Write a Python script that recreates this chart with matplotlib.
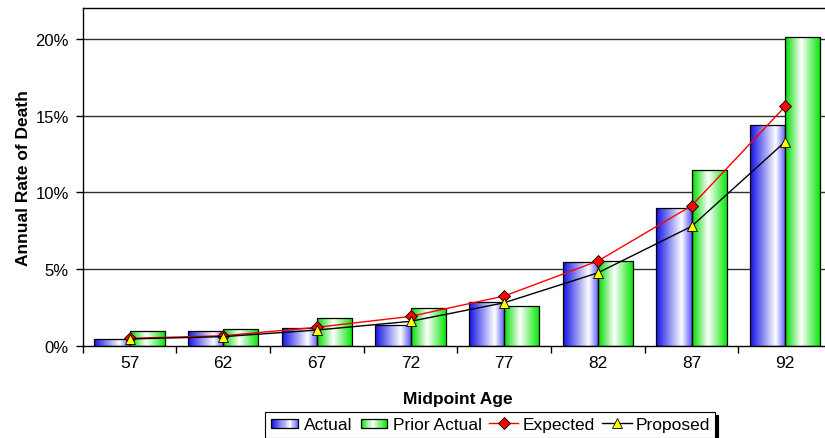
import numpy as np
import matplotlib
matplotlib.use('Agg')
import matplotlib.pyplot as plt
from matplotlib.colors import LinearSegmentedColormap
from matplotlib.patches import Rectangle
from matplotlib.lines import Line2D
from matplotlib.legend_handler import HandlerBase
from matplotlib.ticker import FuncFormatter, FixedLocator

plt.rcParams['font.family'] = ['Liberation Sans', 'DejaVu Sans']

ages = ['57', '62', '67', '72', '77', '82', '87', '92']
actual = [0.44, 0.98, 1.13, 1.35, 2.85, 5.45, 9.00, 14.42]
prior_actual = [0.98, 1.11, 1.79, 2.44, 2.62, 5.50, 11.43, 20.16]
expected = [0.48, 0.65, 1.20, 1.91, 3.24, 5.52, 9.12, 15.60]
proposed = [0.44, 0.59, 1.02, 1.59, 2.80, 4.75, 7.78, 13.30]

# two-tone gradients: saturated edges fading to white
blue_cmap = LinearSegmentedColormap.from_list(
    'blue_grad', [(0.0, '#1414e6'), (0.72, '#ffffff'), (1.0, '#5a5aff')])
green_cmap = LinearSegmentedColormap.from_list(
    'green_grad', [(0.0, '#00dc00'), (0.45, '#ffffff'), (1.0, '#00e600')])


def gradient_bars(ax, xs, heights, width, cmap):
    grad = np.linspace(0, 1, 64).reshape(1, -1)
    for x, h in zip(xs, heights):
        rect = Rectangle((x, 0), width, h, facecolor='none',
                         edgecolor='black', linewidth=0.9, zorder=3)
        ax.add_patch(rect)
        im = ax.imshow(grad, cmap=cmap, aspect='auto',
                       extent=(x, x + width, 0, h), zorder=2,
                       interpolation='bilinear')
        im.set_clip_path(rect)


class GradientHandler(HandlerBase):
    def __init__(self, cmap):
        super().__init__()
        self.cmap = cmap

    def create_artists(self, legend, orig_handle, xdescent, ydescent,
                       width, height, fontsize, trans):
        n = 24
        artists = []
        w = width * 0.9
        h = height * 0.8
        x0 = -xdescent + (width - w) / 2
        y0 = -ydescent + (height - h) / 2
        for i in range(n):
            c = self.cmap((i + 0.5) / n)
            artists.append(Rectangle((x0 + i * w / n, y0), w / n + 0.3, h,
                                     facecolor=c, edgecolor='none',
                                     transform=trans))
        artists.append(Rectangle((x0, y0), w, h, facecolor='none',
                                 edgecolor='black', linewidth=0.9,
                                 transform=trans))
        return artists


fig = plt.figure(figsize=(8.25, 4.39), dpi=100)
ax = fig.add_axes([82.7 / 825, 1 - 346.7 / 439, (832 - 82.7) / 825,
                   (346.7 - 9.3) / 439])

idx = np.arange(len(ages))
bar_w = 0.375
gradient_bars(ax, idx - bar_w, actual, bar_w, blue_cmap)
gradient_bars(ax, idx, prior_actual, bar_w, green_cmap)

ax.plot(idx, expected, color='red', lw=1, marker='D', markersize=6,
        markerfacecolor='red', markeredgecolor='black', markeredgewidth=0.6,
        zorder=5)
ax.plot(idx, proposed, color='black', lw=1, marker='^', markersize=7.5,
        markerfacecolor='yellow', markeredgecolor='black',
        markeredgewidth=0.6, zorder=6)

ax.set_xlim(-0.5, len(ages) - 0.5)
ax.set_ylim(0, 22.0)

ax.set_yticks([0, 5, 10, 15, 20])
ax.yaxis.set_major_formatter(FuncFormatter(lambda v, p: f'{v:.0f}%'))
for v in [5, 10, 15, 20]:
    ax.axhline(v, color='#303030', lw=1, zorder=1)

ax.set_xticks(idx)
ax.set_xticklabels(ages)
ax.xaxis.set_minor_locator(FixedLocator(np.arange(-0.5, len(ages), 1)))
ax.tick_params(axis='x', which='major', length=0, pad=7, labelsize=12.5)
ax.tick_params(axis='x', which='minor', length=5, width=1, direction='out')
ax.tick_params(axis='y', length=5, width=1, direction='out', labelsize=12,
               pad=5)

for side in ['left', 'bottom', 'top']:
    ax.spines[side].set_color('black')
    ax.spines[side].set_linewidth(1)
ax.spines['right'].set_visible(False)

ax.set_xlabel('Midpoint Age', fontsize=12.5, fontweight='bold', labelpad=15)
ax.set_ylabel('Annual Rate of Death', fontsize=12.5, fontweight='bold',
              labelpad=3)

blue_handle = Rectangle((0, 0), 1, 1)
green_handle = Rectangle((0, 0), 1, 1)
exp_handle = Line2D([], [], color='red', lw=1, marker='D', markersize=6,
                    markerfacecolor='red', markeredgecolor='black',
                    markeredgewidth=0.6)
prop_handle = Line2D([], [], color='black', lw=1, marker='^', markersize=7,
                     markerfacecolor='yellow', markeredgecolor='black',
                     markeredgewidth=0.6)

leg = fig.legend([blue_handle, green_handle, exp_handle, prop_handle],
                 ['Actual', 'Prior Actual', 'Expected', 'Proposed'],
                 handler_map={blue_handle: GradientHandler(blue_cmap),
                              green_handle: GradientHandler(green_cmap)},
                 loc='upper center', bbox_to_anchor=(0.594, 0.059),
                 ncol=4, fontsize=12.5, frameon=True, fancybox=False,
                 shadow={'color': 'black', 'alpha': 1, 'ox': 2, 'oy': -2},
                 handlelength=1.7, handletextpad=0.25, columnspacing=0.4,
                 borderpad=0.3, borderaxespad=0)
leg.get_frame().set_edgecolor('black')
leg.get_frame().set_linewidth(0.8)

fig.savefig('out.png', dpi=100)
